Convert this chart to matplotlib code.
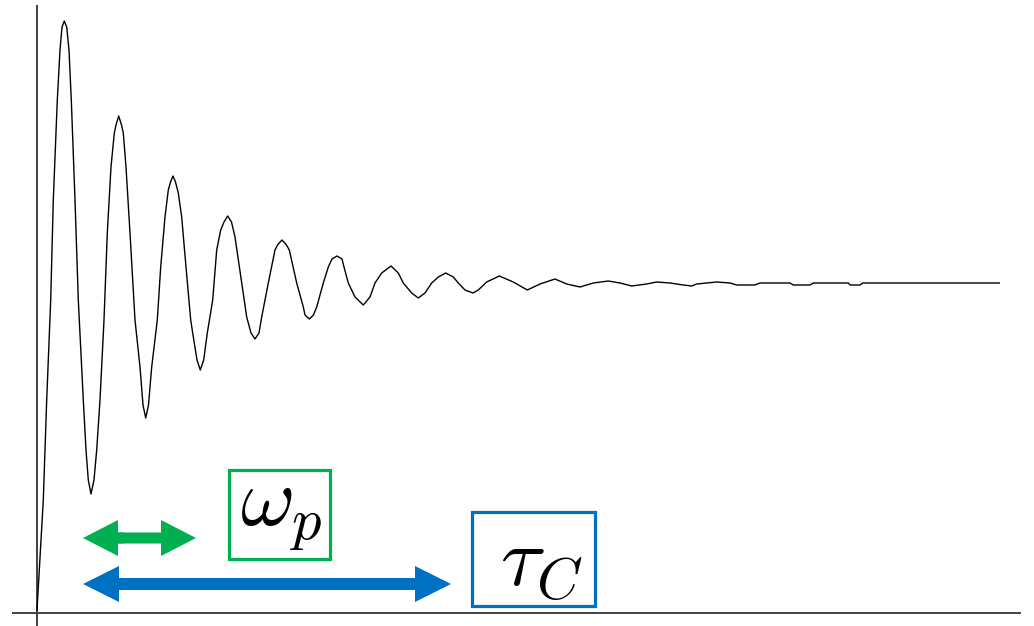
import matplotlib
matplotlib.use("Agg")
from matplotlib import pyplot as plt
from matplotlib.patches import FancyArrow, Rectangle

plt.rcParams['mathtext.fontset'] = 'cm'

# step response (time and height above the baseline)
t = [0, 6.3, 9.7, 13.7, 16.3, 20.3, 23, 25, 27.3, 29.7, 32, 34.3, 38, 41.3,
     46.3, 49, 51.3, 54, 57, 59.7, 63, 67, 70.3, 74, 77.3, 79, 81.7, 84.5,
     86.3, 89, 93, 98, 103, 106, 108.7, 111.5, 114.7, 120.3, 123.7, 128,
     131.3, 133.5, 136, 138.5, 141.3, 144.7, 149, 153.7, 155.7, 160, 163.3,
     166.7, 170.3, 175.7, 179.7, 183.7, 187, 190.7, 194.5, 198, 204.7, 209.7,
     214, 218, 222, 224.7, 231.3, 238, 240.5, 245, 249.5, 252.3, 259.7, 266.3,
     268, 272.3, 276.5, 279.7, 286.3, 291.3, 295, 300, 305, 307, 311.3, 318,
     326.3, 333, 338, 344.7, 354, 361.3, 366.3, 374.7, 381.3, 388, 394.7,
     401.3, 408.7, 416.3, 421.3, 428, 436, 441.3, 449.7, 462.3, 476.3, 490.3,
     503, 518, 529.7, 543, 556.3, 571.3, 583, 594.7, 609.7, 619.7, 633, 646.3,
     654.7, 659.7, 679.7, 693, 699.7, 718, 723, 753, 756.3, 773, 776.3, 811.3,
     813, 823, 825.7, 962.3]
v = [3, 113, 213, 313, 413, 513, 563, 586, 592, 586, 563, 513, 413, 313,
     213, 163, 133, 119, 133, 163, 213, 293, 380, 446, 480, 488, 497, 488,
     480, 446, 380, 293, 246, 208, 195, 208, 246, 293, 346, 396,
     423, 431, 437, 431, 420, 396, 346, 293, 280, 253, 243,
     253, 280, 313, 363, 383, 391, 397, 391, 376, 330, 296,
     280, 274, 280, 296, 330, 363, 368, 373, 368, 363, 330, 306,
     298, 294, 298, 306, 330, 346, 354, 357, 354, 346, 330, 316,
     308, 316, 330, 340, 347, 340, 330, 320, 315, 320, 330,
     336, 340, 336, 330, 323, 320, 323, 331, 337, 331, 323,
     329, 334, 329, 326, 330, 332, 330, 327, 329, 331, 330, 328,
     327, 329, 331, 330, 328, 328, 330, 330, 328, 328, 330, 330,
     328, 328, 330, 330]

green = '#00b050'
blue = '#0070c0'

fig = plt.figure(figsize=(10.34, 6.26), dpi=100)
ax = fig.add_axes([0, 0, 1, 1])
ax.set_xlim(-37, 997)
ax.set_ylim(-13, 613)
ax.axis('off')

# axes lines
ax.plot([-24, 983], [0, 0], color='#404040', lw=1.4)
ax.plot([0, 0], [-13, 607], color='#404040', lw=1.4)

ax.plot(t, v, color='black', lw=1.0)

# double arrows: a full arrow to the right plus a short left head
def double_arrow(x0, x1, y, color, w, hw, hl):
    ax.add_patch(FancyArrow(x0 + hl - 2, y, x1 - x0 - hl + 2, 0, width=w,
                            head_width=hw, head_length=hl,
                            length_includes_head=True, color=color, lw=0))
    ax.add_patch(FancyArrow(x0 + hl + 6, y, -hl - 6, 0, width=w,
                            head_width=hw, head_length=hl,
                            length_includes_head=True, color=color, lw=0))

double_arrow(46, 159, 75, green, 11, 36, 35)
double_arrow(46, 414, 29, blue, 12, 36, 36)

# labelled boxes
ax.add_patch(Rectangle((192, 54), 101, 89, fill=False, ec=green, lw=2.3))
ax.text(244, 101, r'$\omega_p$', fontsize=60, ha='center', va='center')
ax.add_patch(Rectangle((435, 7), 123, 94, fill=False, ec=blue, lw=2.3))
ax.text(504, 51, r'$\tau_C$', fontsize=60, ha='center', va='center')

fig.savefig('out.png', dpi=100)
